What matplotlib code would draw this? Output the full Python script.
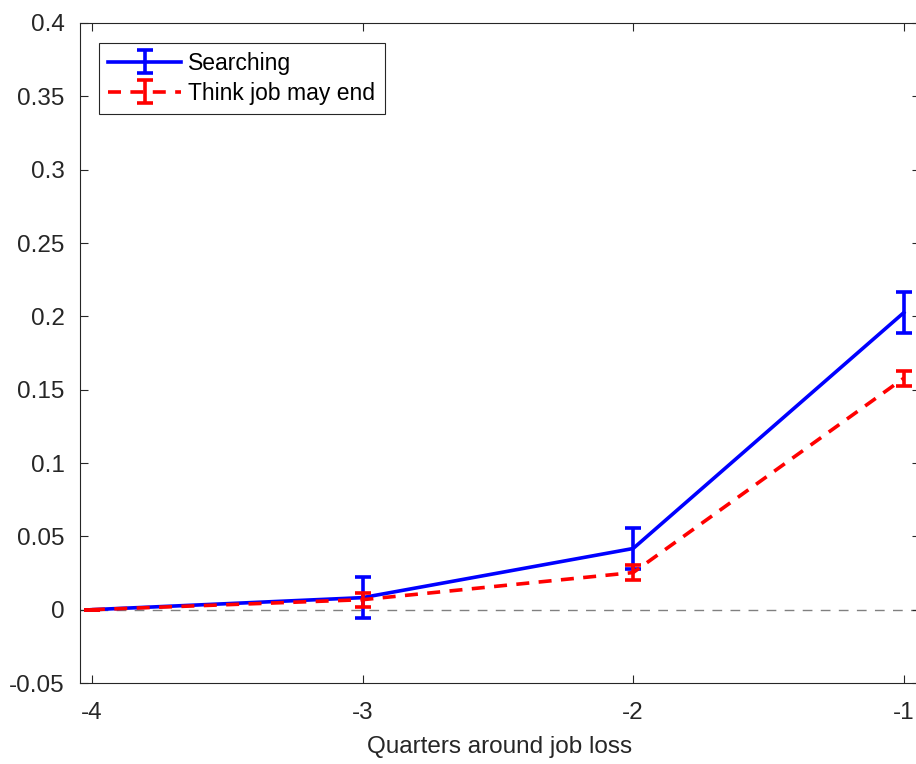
import numpy as np
import matplotlib.pyplot as plt

plt.rcParams['font.family'] = ['Liberation Sans', 'DejaVu Sans']
plt.rcParams['axes.unicode_minus'] = False

# quarters relative to job loss
quarters = [-4, -3, -2, -1]

# searching for a job
search = [0.0, 0.0082, 0.0417, 0.2025]
search_err = [0.0, 0.014, 0.014, 0.014]

# expects job may end
think_end = [0.0, 0.0068, 0.0253, 0.1578]
think_err = [0.0, 0.0048, 0.005, 0.005]

yticks = [-0.05, 0, 0.05, 0.1, 0.15, 0.2, 0.25, 0.3, 0.35, 0.4]
xticks = [-4, -3, -2, -1]

fig = plt.figure(figsize=(9.16, 7.64), dpi=100)
ax = fig.add_axes([80/916, 81/764, 840/916, 660/764])

txt = '#262626'

ax.axhline(0, color='#808080', lw=1.0, dashes=(7, 6), zorder=1)

ax.errorbar(quarters, search, yerr=search_err, color='#0000ff', lw=2.6,
            elinewidth=2.6, capsize=5.5, capthick=2.6, label='Searching', zorder=3)
eb = ax.errorbar(quarters, think_end, yerr=think_err, color='#ff0000', lw=2.6,
                 elinewidth=2.6, capsize=5.5, capthick=2.6,
                 label='Think job may end', zorder=4)
eb[0].set_dashes((3.6, 2.6))

ax.set_xlim(-4.044, -0.94)
ax.set_ylim(-0.05, 0.4)
ax.set_xticks(xticks)
ax.set_xticklabels(['%g' % v for v in xticks])
ax.set_yticks(yticks)
ax.set_yticklabels(['%g' % v for v in yticks])

ax.tick_params(direction='in', length=6, width=0.8, colors=txt,
               labelsize=17.5, top=True, right=True)
ax.tick_params(axis='y', pad=11)
ax.tick_params(axis='x', pad=14)
for s in ax.spines.values():
    s.set_color(txt)
    s.set_linewidth(0.8)

ax.set_xlabel('Quarters around job loss', fontsize=17.5, color=txt, labelpad=8)

leg = ax.legend(loc='upper left', bbox_to_anchor=(0.0226, 0.97), fontsize=16.5,
                fancybox=False, framealpha=1, edgecolor=txt, handlelength=3.2,
                handletextpad=0.3, borderpad=0.4, labelspacing=0.3,
                borderaxespad=0)
leg.get_frame().set_linewidth(0.8)

fig.savefig('out.png', dpi=100)
